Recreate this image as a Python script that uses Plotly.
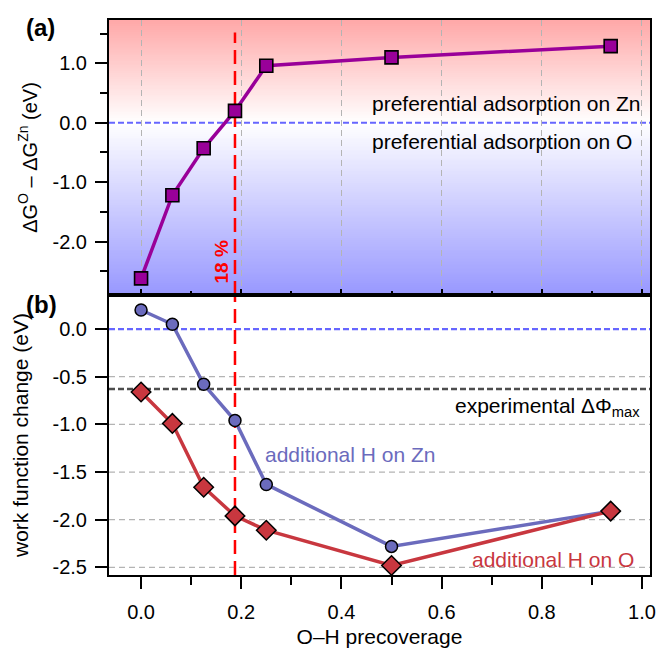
import plotly.graph_objects as go

# ---------------- data ----------------
coverage = [0.0, 0.0625, 0.125, 0.1875, 0.25, 0.5, 0.9375]
dG_diff = [-2.62, -1.22, -0.43, 0.20, 0.96, 1.10, 1.29]          # ΔG^O − ΔG^Zn (eV)
wf_H_on_Zn = [0.20, 0.05, -0.58, -0.96, -1.63, -2.28, -1.91]      # work function change, H on Zn
wf_H_on_O = [-0.66, -0.99, -1.66, -1.96, -2.11, -2.48, -1.91]     # work function change, H on O
exp_dphi_max = -0.63
critical_coverage = 0.1875

x_tick_vals = [0.0, 0.2, 0.4, 0.6, 0.8, 1.0]
x_tick_text = ["0.0", "0.2", "0.4", "0.6", "0.8", "1.0"]
x_minor_vals = [0.1, 0.3, 0.5, 0.7, 0.9]
ya_tick_vals = [-2.0, -1.0, 0.0, 1.0]
ya_tick_text = ["-2.0", "-1.0", "0.0", "1.0"]
ya_minor_vals = [-2.5, -1.5, -0.5, 0.5, 1.5]
yb_tick_vals = [0.0, -0.5, -1.0, -1.5, -2.0, -2.5]
yb_tick_text = ["0.0", "-0.5", "-1.0", "-1.5", "-2.0", "-2.5"]

# ---------------- style ----------------
FONT = "Liberation Sans, Arial, Helvetica, sans-serif"
FS_TICK = 20
FS_TEXT = 21
PURPLE = "#990099"
BLUE = "#6b6bbd"
RED = "#c8373f"
X_RANGE = [-0.064, 1.016]
YA_RANGE = [-2.9, 1.73]
YB_RANGE = [-2.58, 0.357]
SPLIT = 0.5045

fig = go.Figure()

# panel (a)
fig.add_trace(go.Scatter(
    x=coverage, y=dG_diff, mode="lines+markers", xaxis="x", yaxis="y",
    line=dict(color=PURPLE, width=3.5),
    marker=dict(symbol="square", size=13, color=PURPLE, line=dict(color="black", width=1.6)),
    showlegend=False, cliponaxis=False))

# panel (b)
fig.add_trace(go.Scatter(
    x=coverage, y=wf_H_on_Zn, mode="lines+markers", xaxis="x2", yaxis="y2",
    line=dict(color=BLUE, width=3.5),
    marker=dict(symbol="circle", size=12, color=BLUE, line=dict(color="black", width=1.5)),
    showlegend=False, cliponaxis=False))
fig.add_trace(go.Scatter(
    x=coverage, y=wf_H_on_O, mode="lines+markers", xaxis="x2", yaxis="y2",
    line=dict(color=RED, width=3.5),
    marker=dict(symbol="diamond", size=15, color=RED, line=dict(color="black", width=1.5)),
    showlegend=False, cliponaxis=False))

shapes = []
# vertical gradient background of panel (a): blue (bottom) -> white (0) -> red (top)
top_rgb = (255, 168, 168)
bot_rgb = (152, 152, 255)
n_bands = 140
h = (YA_RANGE[1] - YA_RANGE[0]) / n_bands
for i in range(n_bands):
    y0 = YA_RANGE[0] + i * h
    yc = y0 + h / 2
    if yc >= 0:
        t = min(yc / YA_RANGE[1], 1.0)
        c = tuple(round(255 + (tc - 255) * t) for tc in top_rgb)
    else:
        t = min(yc / YA_RANGE[0], 1.0)
        c = tuple(round(255 + (bc - 255) * t) for bc in bot_rgb)
    y1 = min(y0 + h * 2.2, YA_RANGE[1])
    shapes.append(dict(type="rect", xref="x domain", yref="y", x0=0, x1=1,
                       y0=y0, y1=y1, fillcolor="rgb(%d,%d,%d)" % c,
                       line=dict(width=0), layer="below"))

# horizontal grid lines of panel (b) (except the zero line)
for v in yb_tick_vals:
    if v != 0:
        shapes.append(dict(type="line", xref="x2 domain", yref="y2", x0=0, x1=1, y0=v, y1=v,
                           line=dict(color="#b4b4b4", width=1.3, dash="6px,4px"), layer="below"))

# zero lines
shapes.append(dict(type="line", xref="x domain", yref="y", x0=0, x1=1, y0=0, y1=0,
                   line=dict(color="#6666ff", width=2.2, dash="6px,3px"), layer="below"))
shapes.append(dict(type="line", xref="x2 domain", yref="y2", x0=0, x1=1, y0=0, y1=0,
                   line=dict(color="#6666ff", width=2.2, dash="6px,3px"), layer="below"))
# experimental maximum work-function change
shapes.append(dict(type="line", xref="x2 domain", yref="y2", x0=0, x1=1,
                   y0=exp_dphi_max, y1=exp_dphi_max,
                   line=dict(color="#4d4d4d", width=2.5, dash="6px,3px"), layer="below"))
# critical coverage (18 %) line through both panels
shapes.append(dict(type="line", xref="x", yref="y domain", x0=critical_coverage, x1=critical_coverage,
                   y0=0, y1=0.955, line=dict(color="#ff0000", width=2.5, dash="14px,7px"), layer="below"))
shapes.append(dict(type="line", xref="x2", yref="y2 domain", x0=critical_coverage, x1=critical_coverage,
                   y0=0, y1=1, line=dict(color="#ff0000", width=2.5, dash="14px,7px"), layer="below"))

annotations = [
    dict(text="<b>(a)</b>", xref="paper", yref="paper", x=-0.158, y=0.986, xanchor="left",
         yanchor="middle", showarrow=False, font=dict(size=24, color="black")),
    dict(text="<b>(b)</b>", xref="paper", yref="paper", x=-0.158, y=0.488, xanchor="left",
         yanchor="middle", showarrow=False, font=dict(size=24, color="black")),
    dict(text="<b>18 %</b>", xref="x", yref="y", x=0.161, y=-2.34, textangle=-90,
         showarrow=False, font=dict(size=19, color="#ff0000")),
    dict(text="preferential adsorption on Zn", xref="x", yref="y", x=0.458, y=0.33,
         xanchor="left", yanchor="middle", showarrow=False, font=dict(size=FS_TEXT, color="black")),
    dict(text="preferential adsorption on O", xref="x", yref="y", x=0.458, y=-0.32,
         xanchor="left", yanchor="middle", showarrow=False, font=dict(size=FS_TEXT, color="black")),
    dict(text="experimental ΔΦ<sub>max</sub>", xref="x2", yref="y2", x=1.0, y=-0.815,
         xanchor="right", yanchor="middle", showarrow=False, font=dict(size=FS_TEXT, color="black")),
    dict(text="additional H on Zn", xref="x2", yref="y2", x=0.244, y=-1.315,
         xanchor="left", yanchor="middle", showarrow=False, font=dict(size=FS_TEXT, color=BLUE)),
    dict(text="additional H on O", xref="x2", yref="y2", x=0.657, y=-2.417,
         xanchor="left", yanchor="middle", showarrow=False, font=dict(size=FS_TEXT, color=RED)),
]

axis_common = dict(showline=True, linewidth=2, linecolor="black", mirror=True, automargin=False,
                   tickfont=dict(size=FS_TICK, color="black"), tickcolor="black", zeroline=False)

fig.update_layout(
    width=656, height=648,
    margin=dict(l=109, r=6, t=20, b=73, autoexpand=False),
    paper_bgcolor="white", plot_bgcolor="white",
    font=dict(family=FONT, size=FS_TICK, color="black"),
    shapes=shapes, annotations=annotations,
    xaxis=dict(domain=[0, 1], anchor="y", range=X_RANGE, tickmode="array",
               tickvals=x_tick_vals, ticktext=x_tick_text, showticklabels=False,
               ticks="inside", ticklen=6, tickwidth=2,
               minor=dict(tickmode="array", tickvals=x_minor_vals, ticks="inside", ticklen=4,
                          tickwidth=2, tickcolor="black", showgrid=False),
               showgrid=True, gridcolor="#b4b4b4", gridwidth=1.3, griddash="6px,4px",
               **axis_common),
    yaxis=dict(domain=[SPLIT, 1], anchor="x", range=YA_RANGE, tickmode="array",
               tickvals=ya_tick_vals, ticktext=ya_tick_text,
               ticks="outside", ticklen=12, tickwidth=2, ticklabelstandoff=4,
               minor=dict(tickmode="array", tickvals=ya_minor_vals, ticks="outside", ticklen=7,
                          tickwidth=2, tickcolor="black", showgrid=False),
               showgrid=False,
               title=dict(text="ΔG<sup>O</sup> – ΔG<sup>Zn</sup> (eV)",
                          font=dict(size=20), standoff=10),
               **axis_common),
    xaxis2=dict(domain=[0, 1], anchor="y2", range=X_RANGE, tickmode="array",
                tickvals=x_tick_vals, ticktext=x_tick_text,
                ticks="outside", ticklen=12, tickwidth=2, ticklabelstandoff=6,
                minor=dict(tickmode="array", tickvals=x_minor_vals, ticks="outside", ticklen=8,
                           tickwidth=2, tickcolor="black", showgrid=False),
                showgrid=False,
                title=dict(text="O–H precoverage", font=dict(size=FS_TEXT), standoff=22),
                **axis_common),
    xaxis3=dict(overlaying="x2", anchor="y2", side="top", range=X_RANGE, tickmode="array",
                tickvals=x_tick_vals, showticklabels=False, ticks="inside", ticklen=6,
                tickwidth=2, tickcolor="black", automargin=False,
                minor=dict(tickmode="array", tickvals=x_minor_vals, ticks="inside", ticklen=4,
                           tickwidth=2, tickcolor="black", showgrid=False),
                showgrid=False, showline=False, zeroline=False),
    yaxis2=dict(domain=[0, SPLIT], anchor="x2", range=YB_RANGE, tickmode="array",
                tickvals=yb_tick_vals, ticktext=yb_tick_text,
                ticks="outside", ticklen=12, tickwidth=2, ticklabelstandoff=4,
                showgrid=False,
                title=dict(text="work function change (eV)", font=dict(size=FS_TEXT), standoff=18),
                **axis_common),
)

fig.write_html("out.html", config={"displayModeBar": False},
               post_script="document.body.style.margin='0px';document.body.style.padding='0px';")
